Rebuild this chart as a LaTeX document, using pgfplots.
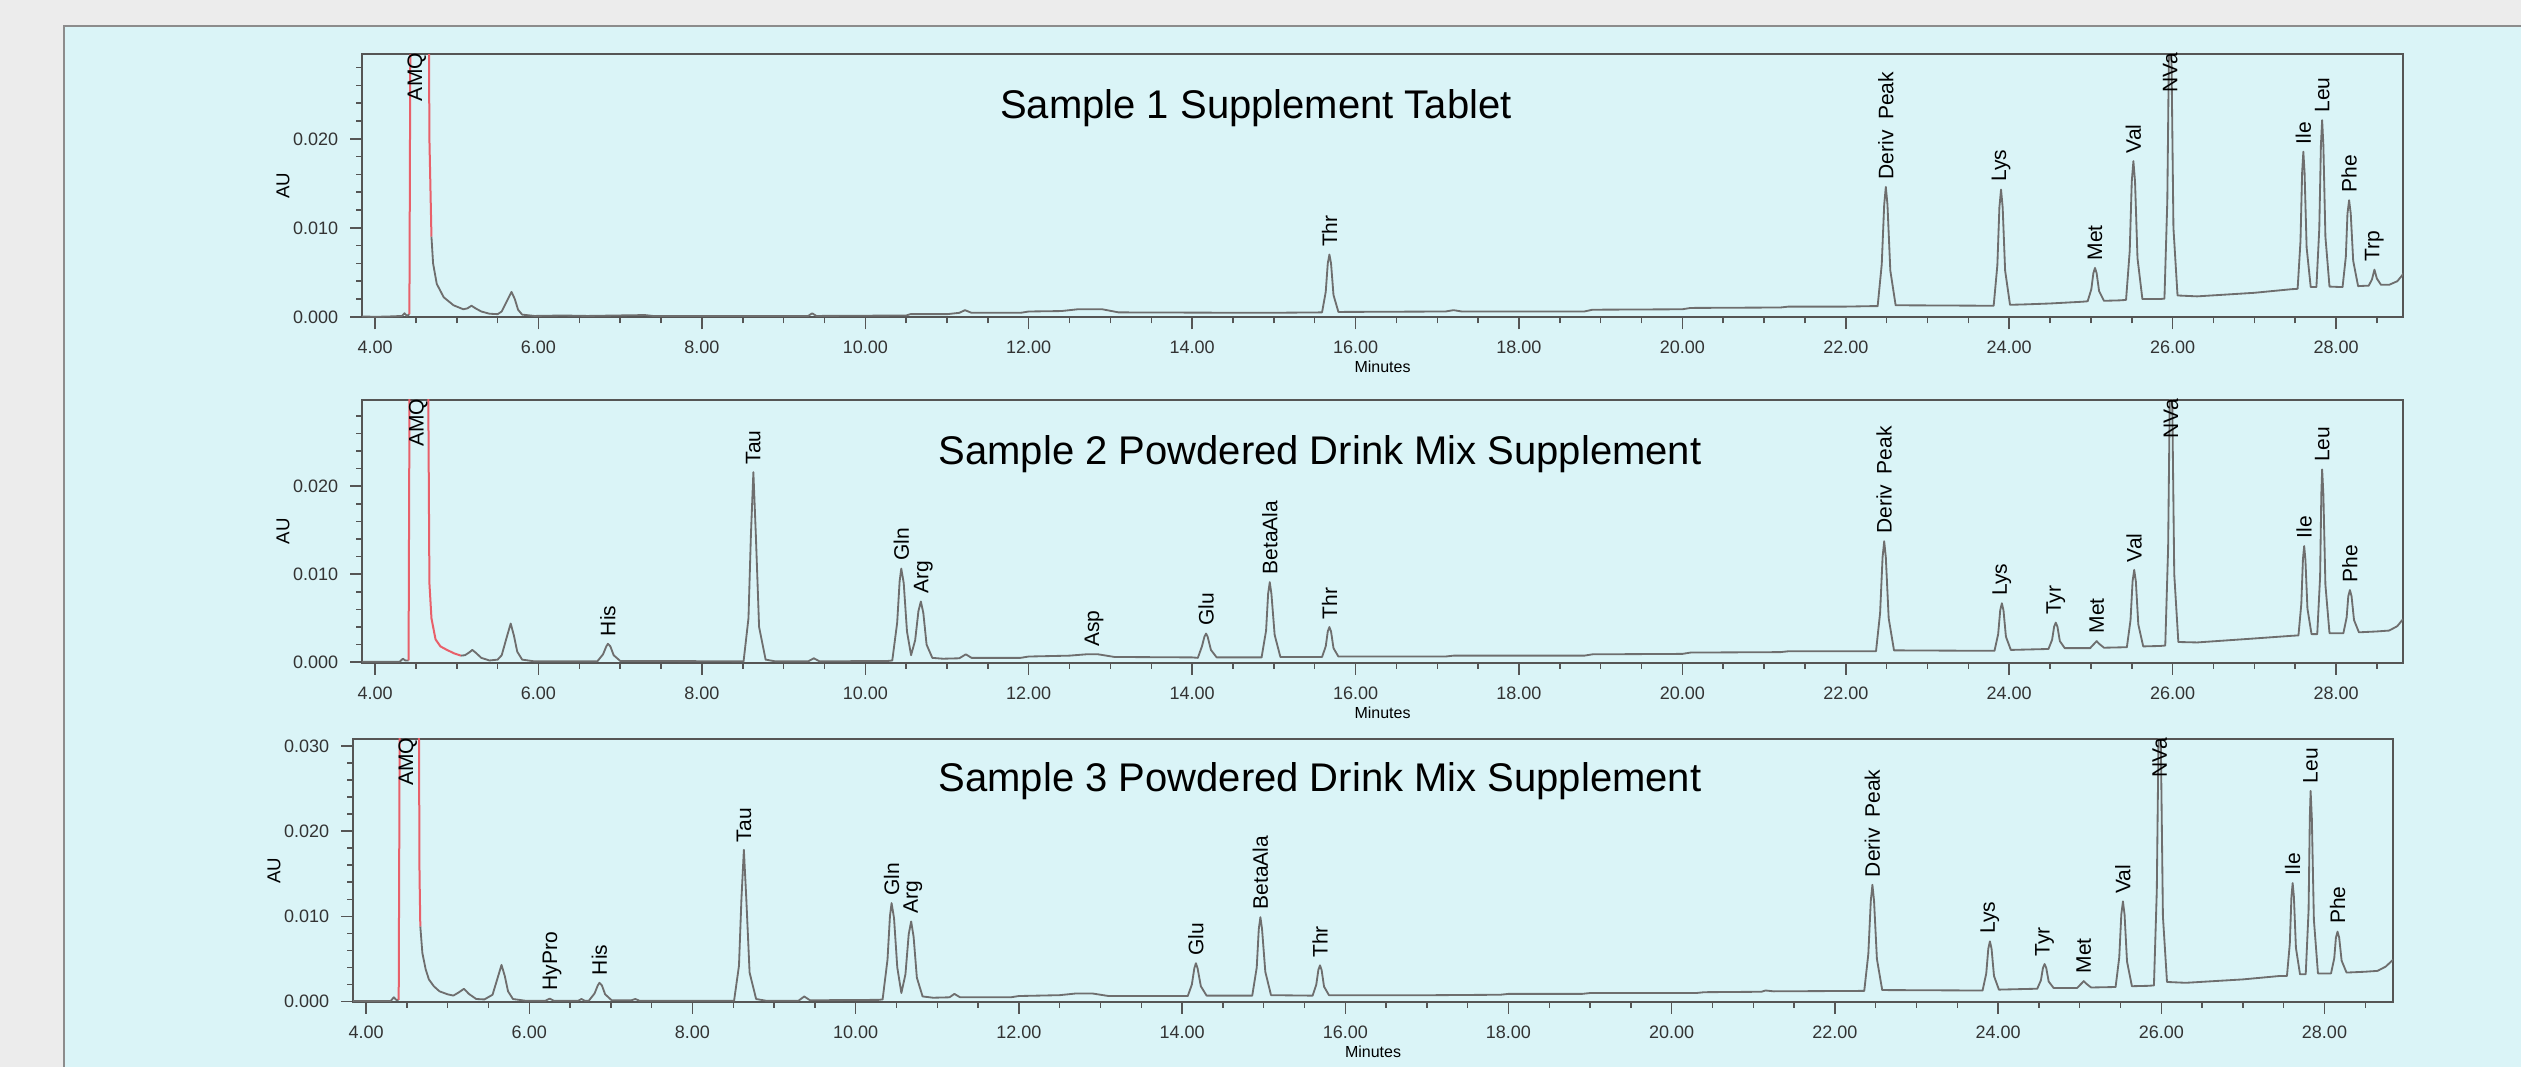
\documentclass[border=0pt]{standalone}
\usepackage{fontspec}
\setmainfont{Liberation Sans}
\usepackage{pgfplots}
\pgfplotsset{compat=1.18}

\definecolor{bgray}{HTML}{ECECEC}
\definecolor{panel}{HTML}{DAF4F7}
\definecolor{pborder}{HTML}{8C8C8C}
\definecolor{tracec}{HTML}{6E6E6E}
\definecolor{amq}{HTML}{E8606A}
\definecolor{framec}{HTML}{555555}

% y values are in 0.001 AU, labelled as AU on the ticks
\pgfplotsset{
  chrom/.style={
    scale only axis, width=612.3pt, height=78.9pt,
    anchor=south west, ymin=-0.05,
    clip mode=individual,
    xtick={4,6,...,28},
    xticklabels={4.00,6.00,8.00,10.00,12.00,14.00,16.00,18.00,20.00,22.00,24.00,26.00,28.00},
    minor xtick={4,4.5,...,28.5},
    tick align=outside, tick pos=left,
    major tick length=3.6pt, minor tick length=1.8pt,
    axis line style={draw=framec, line width=0.6pt},
    tick style={draw=framec, line width=0.45pt},
    tick label style={font=\fontsize{5.4}{6}\selectfont, text=black!80},
    xlabel={Minutes}, ylabel={AU},
    xlabel style={font=\fontsize{4.8}{5}\selectfont, at={(axis description cs:0.5,-0.19)}, anchor=center},
    ylabel style={font=\fontsize{5.6}{6}\selectfont, at={(axis description cs:-0.0387,0.5)}, anchor=center},
  },
  trace/.style={draw=tracec, line width=0.55pt, line join=round, mark=none},
  amqline/.style={draw=amq, line width=0.6pt, line join=round, mark=none},
}
\tikzset{
  pk/.style={rotate=90, anchor=west, inner xsep=2.1pt, inner ysep=0pt, font=\fontsize{6.3}{7}\selectfont},
  pktop/.style={rotate=90, anchor=east, inner xsep=0pt, inner ysep=0pt, font=\fontsize{6.3}{7}\selectfont},
}

\begin{document}
\begin{tikzpicture}
\useasboundingbox (0,0) rectangle (756.3pt,320.1pt);
\fill[bgray] (0,0) rectangle (756.3pt,320.1pt);
\fill[panel] (19.2pt,0) rectangle (756.3pt,312.3pt);
\draw[pborder, line width=0.6pt] (19.2pt,0) -- (19.2pt,312.3pt) -- (756.3pt,312.3pt);

% ---------- Sample 1 ----------
\begin{axis}[chrom, at={(108.6pt,224.91pt)}, xmin=3.84, xmax=28.82, ymax=29.5,
  ytick={0,10,20}, yticklabels={0.000,0.010,0.020}, minor ytick={0,2,...,28}]
\addplot[trace] coordinates {(3.84,0.05)(4.0,0.0)(4.2,0.05)(4.33,0.1)(4.36,0.4)(4.39,0.1)(4.42,0.3)};
\addplot[amqline] coordinates {(4.42,0.3)(4.435,40)(4.655,40)(4.665,20)(4.69,9.0)};
\addplot[trace] coordinates {
(4.69,9.0)(4.71,6.0)(4.755,3.7)(4.84,2.2)(4.96,1.3)(5.08,0.85)(5.13,0.95)(5.18,1.25)(5.23,0.95)
(5.30,0.6)(5.40,0.35)(5.50,0.3)(5.55,0.6)(5.62,1.9)(5.67,2.8)(5.71,2.0)(5.75,0.8)(5.80,0.25)
(5.95,0.1)(6.30,0.15)(6.60,0.1)(7.30,0.2)(7.40,0.1)(9.30,0.1)(9.35,0.4)(9.40,0.1)(10.50,0.15)
(10.55,0.3)(10.60,0.3)(11.00,0.3)(11.15,0.45)(11.22,0.75)(11.30,0.45)(11.90,0.45)(12.00,0.6)
(12.40,0.65)(12.60,0.85)(12.90,0.85)(13.10,0.5)(14.90,0.45)
(15.59,0.5)(15.635,2.8)(15.66,6.0)(15.68,7.0)(15.70,6.0)(15.73,2.45)(15.79,0.55)
(17.10,0.6)(17.20,0.75)(17.30,0.6)(18.80,0.6)(18.90,0.8)(20.00,0.85)(20.10,1.0)(21.20,1.05)
(21.30,1.15)(22.00,1.15)(22.30,1.2)
(22.39,1.2)(22.44,5.9)(22.47,12.6)(22.49,14.6)(22.51,12.6)(22.545,5.2)(22.61,1.3)(23.70,1.25)
(23.81,1.25)(23.855,5.8)(23.88,12.3)(23.90,14.3)(23.92,12.3)(23.95,5.2)(24.01,1.35)(24.20,1.4)
(24.50,1.5)(24.90,1.7)
(24.96,1.75)(25.005,3.1)(25.03,4.9)(25.05,5.5)(25.07,4.9)(25.10,2.9)(25.16,1.8)(25.35,1.85)
(25.43,1.9)(25.475,7.4)(25.50,15.2)(25.52,17.5)(25.54,15.2)(25.57,6.6)(25.63,2.0)(25.85,2.0)
(25.90,2.05)(25.935,13)(25.955,30)(25.97,35)(25.985,30)(26.01,10)(26.06,2.4)(26.30,2.3)
(27.00,2.7)(27.45,3.1)
(27.53,3.15)(27.565,8.5)(27.585,16.2)(27.60,18.55)(27.615,16.2)(27.64,7.8)(27.69,3.35)(27.75,3.35)
(27.76,3.35)(27.795,9.9)(27.815,19.3)(27.83,22.1)(27.845,19.3)(27.87,9.0)(27.92,3.4)(28.05,3.35)
(28.08,3.35)(28.12,6.75)(28.14,11.6)(28.16,13.1)(28.18,11.6)(28.21,6.3)(28.27,3.45)(28.38,3.5)
(28.40,3.5)(28.44,4.2)(28.47,5.3)(28.50,4.3)(28.55,3.6)(28.65,3.6)(28.75,4.0)(28.83,4.9)};
\node[pktop] at (axis cs:4.51,29.7) {AMQ};
\node[pk] at (axis cs:15.68,7.0) {Thr};
\node[pk] at (axis cs:22.49,14.6) {Deriv\hspace{0.5em}Peak};
\node[pk] at (axis cs:23.90,14.3) {Lys};
\node[pk] at (axis cs:25.05,5.5) {Met};
\node[pk] at (axis cs:25.52,17.5) {Val};
\node[pktop] at (axis cs:25.97,29.7) {NVa};
\node[pk] at (axis cs:27.60,18.55) {Ile};
\node[pk] at (axis cs:27.83,22.1) {Leu};
\node[pk] at (axis cs:28.16,13.1) {Phe};
\node[pk] at (axis cs:28.47,5.3) {Trp};
\end{axis}

% ---------- Sample 2 ----------
\begin{axis}[chrom, at={(108.6pt,121.29pt)}, height=78.81pt, xmin=3.84, xmax=28.82, ymax=29.8,
  ytick={0,10,20}, yticklabels={0.000,0.010,0.020}, minor ytick={0,2,...,28}]
\addplot[trace] coordinates {(3.84,0.05)(4.30,0.05)(4.34,0.4)(4.37,0.2)(4.41,0.2)};
\addplot[amqline] coordinates {(4.41,0.2)(4.425,40)(4.645,40)(4.665,9)(4.69,5.0)(4.74,2.6)(4.80,1.8)
(4.88,1.4)(4.97,1.0)(5.05,0.75)};
\addplot[trace] coordinates {
(5.05,0.75)(5.10,0.8)(5.15,1.1)(5.19,1.4)(5.23,1.1)(5.30,0.5)(5.40,0.2)(5.50,0.3)
(5.55,0.8)(5.61,2.8)(5.66,4.4)(5.70,3.0)(5.74,1.2)(5.80,0.3)(5.95,0.1)
(6.72,0.1)(6.79,0.9)(6.83,1.8)(6.85,2.1)(6.88,1.8)(6.92,0.8)(7.00,0.15)(7.30,0.15)(8.45,0.1)
(8.51,0.1)(8.57,5.0)(8.60,14.5)(8.63,21.6)(8.66,14.5)(8.70,4.0)(8.78,0.3)(8.90,0.1)
(9.30,0.1)(9.37,0.45)(9.44,0.1)(10.28,0.15)
(10.33,0.2)(10.39,4.5)(10.42,9.2)(10.44,10.65)(10.47,9.0)(10.51,3.5)(10.56,0.8)
(10.61,2.5)(10.65,5.8)(10.68,6.9)(10.71,5.6)(10.75,2.0)(10.82,0.5)(10.95,0.4)
(11.15,0.45)(11.23,0.9)(11.30,0.5)(11.90,0.5)(12.00,0.65)(12.50,0.75)(12.70,0.9)(12.85,0.9)
(13.05,0.6)(14.00,0.55)
(14.07,0.5)(14.12,1.8)(14.15,2.9)(14.17,3.26)(14.19,2.9)(14.23,1.4)(14.30,0.55)(14.80,0.55)
(14.85,0.55)(14.905,3.6)(14.93,7.8)(14.95,9.1)(14.97,7.8)(15.01,3.1)(15.08,0.6)(15.55,0.6)
(15.59,0.6)(15.635,1.8)(15.66,3.5)(15.68,4.0)(15.70,3.5)(15.73,1.6)(15.79,0.65)
(17.10,0.65)(17.20,0.75)(18.80,0.75)(18.90,0.9)(20.00,0.95)(20.10,1.1)(21.20,1.15)(21.30,1.25)
(22.30,1.25)
(22.37,1.25)(22.42,5.6)(22.45,11.9)(22.47,13.75)(22.49,11.9)(22.525,5.0)(22.59,1.35)(23.70,1.3)
(23.82,1.3)(23.865,3.2)(23.89,5.9)(23.91,6.7)(23.93,5.9)(23.96,2.9)(24.02,1.4)(24.45,1.5)
(24.48,1.5)(24.525,2.55)(24.55,4.05)(24.57,4.5)(24.59,4.05)(24.62,2.4)(24.68,1.6)(24.95,1.6)
(24.99,1.6)(25.04,2.1)(25.07,2.4)(25.10,2.1)(25.16,1.65)(25.40,1.7)
(25.44,1.7)(25.485,4.8)(25.51,9.2)(25.53,10.5)(25.55,9.2)(25.58,4.3)(25.64,1.8)(25.85,1.85)
(25.91,1.9)(25.945,13)(25.965,30)(25.98,35)(25.995,30)(26.02,10)(26.07,2.3)(26.30,2.25)
(27.00,2.7)(27.45,3.0)
(27.54,3.05)(27.575,6.6)(27.595,11.7)(27.61,13.2)(27.625,11.7)(27.65,6.1)(27.70,3.2)(27.76,3.2)
(27.77,3.2)(27.805,9.7)(27.82,19.1)(27.83,21.9)(27.845,19.1)(27.87,8.8)(27.92,3.3)(28.05,3.3)
(28.09,3.3)(28.13,5.1)(28.15,7.5)(28.17,8.2)(28.19,7.5)(28.22,4.8)(28.28,3.4)
(28.50,3.5)(28.65,3.6)(28.75,4.1)(28.82,4.9)};
\node[pktop] at (axis cs:4.53,30.0) {AMQ};
\node[pk] at (axis cs:6.85,2.1) {His};
\node[pk] at (axis cs:8.63,21.6) {Tau};
\node[pk] at (axis cs:10.44,10.65) {Gln};
\node[pk] at (axis cs:10.71,6.9) {Arg};
\node[pk] at (axis cs:12.80,0.9) {Asp};
\node[pk] at (axis cs:14.17,3.26) {Glu};
\node[pk] at (axis cs:14.95,9.1) {BetaAla};
\node[pk] at (axis cs:15.68,4.0) {Thr};
\node[pk] at (axis cs:22.47,13.75) {Deriv\hspace{0.5em}Peak};
\node[pk] at (axis cs:23.91,6.7) {Lys};
\node[pk] at (axis cs:24.57,4.5) {Tyr};
\node[pk] at (axis cs:25.07,2.4) {Met};
\node[pk] at (axis cs:25.53,10.5) {Val};
\node[pktop] at (axis cs:25.98,30.0) {NVa};
\node[pk] at (axis cs:27.61,13.2) {Ile};
\node[pk] at (axis cs:27.83,21.9) {Leu};
\node[pk] at (axis cs:28.17,8.2) {Phe};
\end{axis}

% ---------- Sample 3 ----------
\begin{axis}[chrom, at={(105.9pt,19.5pt)}, width=612pt, xmin=3.84, xmax=28.84, ymax=30.8,
  ytick={0,10,20,30}, yticklabels={0.000,0.010,0.020,0.030}, minor ytick={0,2,...,30}]
\addplot[trace] coordinates {(3.84,0.05)(4.30,0.05)(4.34,0.5)(4.37,0.2)(4.40,0.2)};
\addplot[amqline] coordinates {(4.40,0.2)(4.415,40)(4.645,40)(4.655,15)(4.665,8.8)};
\addplot[trace] coordinates {
(4.665,8.8)(4.69,5.7)(4.73,3.8)(4.77,2.6)(4.83,1.8)(4.90,1.2)(5.00,0.85)(5.07,0.7)(5.14,1.1)
(5.20,1.5)(5.26,0.9)(5.35,0.3)(5.45,0.25)
(5.55,0.8)(5.61,2.7)(5.66,4.3)(5.70,3.0)(5.74,1.2)(5.80,0.3)(5.95,0.1)
(6.20,0.1)(6.25,0.35)(6.30,0.1)(6.60,0.1)(6.64,0.3)(6.68,0.1)
(6.73,0.1)(6.80,0.95)(6.84,1.9)(6.86,2.2)(6.89,1.9)(6.93,0.85)(7.01,0.15)(7.25,0.15)(7.30,0.3)
(7.35,0.1)(8.45,0.1)
(8.51,0.1)(8.57,4.2)(8.60,12.0)(8.63,17.8)(8.66,12.0)(8.70,3.4)(8.78,0.3)(8.90,0.1)
(9.30,0.1)(9.37,0.6)(9.44,0.15)(10.28,0.2)
(10.33,0.25)(10.39,4.9)(10.42,10.0)(10.44,11.55)(10.47,9.8)(10.51,4.0)(10.56,1.0)
(10.61,3.2)(10.65,7.9)(10.68,9.4)(10.71,7.6)(10.75,2.8)(10.82,0.6)(10.95,0.45)
(11.15,0.5)(11.21,0.9)(11.28,0.5)(11.90,0.5)(12.00,0.65)(12.50,0.75)(12.70,0.95)(12.90,0.95)
(13.10,0.65)(14.00,0.65)
(14.07,0.65)(14.12,2.0)(14.15,3.9)(14.17,4.5)(14.19,3.9)(14.23,1.8)(14.30,0.7)(14.80,0.7)
(14.86,0.7)(14.915,4.0)(14.94,8.5)(14.96,9.9)(14.98,8.5)(15.02,3.5)(15.09,0.75)(15.55,0.7)
(15.60,0.7)(15.645,2.0)(15.67,3.7)(15.69,4.25)(15.71,3.7)(15.74,1.75)(15.80,0.75)
(17.10,0.75)(17.90,0.8)(18.00,0.9)(18.90,0.9)(19.00,1.0)(20.30,1.0)(20.40,1.1)(21.10,1.15)
(21.15,1.3)(21.25,1.2)(22.30,1.25)
(22.36,1.25)(22.41,5.6)(22.44,11.8)(22.46,13.7)(22.48,11.8)(22.515,5.0)(22.58,1.35)(23.70,1.3)
(23.81,1.3)(23.855,3.3)(23.88,6.2)(23.90,7.06)(23.92,6.2)(23.95,3.0)(24.01,1.4)(24.45,1.5)
(24.48,1.5)(24.525,2.5)(24.55,3.95)(24.57,4.4)(24.59,3.95)(24.62,2.35)(24.68,1.6)(24.95,1.6)
(24.97,1.6)(25.02,2.1)(25.05,2.4)(25.08,2.1)(25.14,1.65)(25.40,1.7)
(25.44,1.7)(25.485,5.2)(25.51,10.2)(25.53,11.75)(25.55,10.2)(25.58,4.7)(25.64,1.8)(25.85,1.85)
(25.91,1.9)(25.945,13)(25.965,30)(25.98,35)(25.995,30)(26.02,10)(26.07,2.3)(26.30,2.2)
(27.00,2.6)(27.45,3.0)
(27.54,3.0)(27.575,6.8)(27.595,12.3)(27.61,13.9)(27.625,12.3)(27.65,6.3)(27.70,3.2)(27.76,3.2)
(27.77,3.2)(27.805,10.7)(27.82,21.5)(27.83,24.7)(27.845,21.5)(27.87,9.6)(27.92,3.3)(28.05,3.3)
(28.08,3.3)(28.12,5.1)(28.14,7.5)(28.16,8.2)(28.18,7.5)(28.21,4.8)(28.27,3.4)(28.50,3.5)
(28.65,3.6)(28.75,4.1)(28.84,4.9)};
\node[pktop] at (axis cs:4.51,31.0) {AMQ};
\node[pk] at (axis cs:6.28,0.4) {HyPro};
\node[pk] at (axis cs:6.86,2.2) {His};
\node[pk] at (axis cs:8.63,17.8) {Tau};
\node[pk] at (axis cs:10.44,11.55) {Gln};
\node[pk] at (axis cs:10.70,9.4) {Arg};
\node[pk] at (axis cs:14.17,4.5) {Glu};
\node[pk] at (axis cs:14.96,9.9) {BetaAla};
\node[pk] at (axis cs:15.69,4.25) {Thr};
\node[pk] at (axis cs:22.46,13.7) {Deriv\hspace{0.5em}Peak};
\node[pk] at (axis cs:23.90,7.06) {Lys};
\node[pk] at (axis cs:24.57,4.4) {Tyr};
\node[pk] at (axis cs:25.05,2.4) {Met};
\node[pk] at (axis cs:25.53,11.75) {Val};
\node[pktop] at (axis cs:25.98,31.0) {NVa};
\node[pk] at (axis cs:27.61,13.9) {Ile};
\node[pk] at (axis cs:27.83,24.7) {Leu};
\node[pk] at (axis cs:28.16,8.2) {Phe};
\end{axis}

% titles
\node[anchor=base, font=\fontsize{12}{14}\selectfont] at (376.8pt,284.4pt) {Sample 1 Supplement Tablet};
\node[anchor=base, font=\fontsize{12}{14}\selectfont] at (396pt,180.6pt) {Sample 2 Powdered Drink Mix Supplement};
\node[anchor=base, font=\fontsize{12}{14}\selectfont] at (396pt,82.5pt) {Sample 3 Powdered Drink Mix Supplement};
\end{tikzpicture}
\end{document}
